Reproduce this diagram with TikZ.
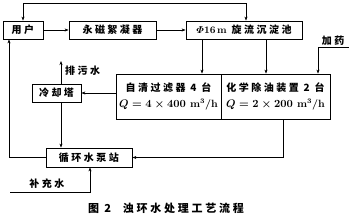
\documentclass[tikz,border=0pt]{standalone}
\usepackage{amsmath}
\usepackage{fontspec}
\newfontfamily\cjk[LetterSpace=25]{Noto Sans CJK SC}
\usetikzlibrary{arrows.meta}
\begin{document}
\begin{tikzpicture}[x=1pt,y=-1pt,
  box/.style={draw,line width=0.8pt,inner sep=0pt,font=\cjk\bfseries\fontsize{10}{11}\selectfont},
  arr/.style={line width=0.6pt,-{Stealth[length=4pt,width=3pt]}},
  barr/.style={line width=0.6pt,{Stealth[length=4pt,width=3pt]}-{Stealth[length=4pt,width=3pt]}},
  lbl/.style={inner sep=0pt,font=\cjk\bfseries\fontsize{10}{11}\selectfont}]
\useasboundingbox (0,0) rectangle (349,219);
% boxes
\node[box,minimum width=40pt,minimum height=18pt] (user) at (23,30) {用户};
\node[box,minimum width=87pt,minimum height=18pt] (mag) at (112.5,30) {永磁絮凝器};
\node[box,minimum width=116pt,minimum height=18pt] (phi) at (244,30) {{\boldmath$\varPhi$}{\rmfamily\bfseries 16\,m} 旋流沉淀池};
\node[box,minimum width=105pt,minimum height=45pt,align=center] (filt) at (168.5,96.5) {自清过滤器 4 台\\[5pt]{\rmfamily\bfseries\boldmath\fontsize{10.5}{12}\selectfont $Q=4\times400$ m$^3$/h}};
\node[box,minimum width=109pt,minimum height=45pt,align=center] (chem) at (275.5,96.5) {化学除油装置 2 台\\[5pt]{\rmfamily\bfseries\boldmath\fontsize{10.5}{12}\selectfont $Q=2\times200$ m$^3$/h}};
\node[box,minimum width=49pt,minimum height=18pt] (cool) at (56.5,93) {冷却塔};
\node[box,minimum width=86pt,minimum height=19pt] (pump) at (89,157.5) {循环水泵站};
% labels
\node[lbl,anchor=west] (pw) at (65,71) {排污水};
\node[lbl] (mkl) at (47,184) {补充水};
\node[lbl] (drug) at (333,41) {加药};
\node[inner sep=0pt,font=\cjk\bfseries\fontsize{11}{12}\selectfont] (cap) at (166,208) {图 2\hspace{12pt}浊环水处理工艺流程};
% helper coordinates
\coordinate (top) at (0,3);
\coordinate (c246) at (246,0);
\coordinate (c202) at (202,0);
\coordinate (c266) at (266,0);
\coordinate (c318) at (318,0);
\coordinate (c283) at (283,0);
\coordinate (c61) at (61,0);
\coordinate (c9) at (9,0);
\coordinate (c90) at (90,0);
\coordinate (drugin) at (349,47);
\coordinate (pwtop) at (61,61);
\coordinate (mk) at (10,192);
% connectors
\draw[arr] (user.east) -- (mag.west);
\draw[arr] (mag.east) -- (phi.west);
\draw[barr] (user.north) |- (top -| c246) -- (c246 |- phi.north);
\draw[arr] (c202 |- phi.south) -- (c202 |- filt.north);
\draw[arr] (c266 |- phi.south) -- (c266 |- chem.north);
\draw[arr] (drugin) -| (c318 |- chem.north);
\draw[arr] (filt.west |- cool.east) -- (cool.east);
\draw[arr] (c61 |- cool.north) -- (pwtop);
\draw[arr] (c61 |- cool.south) -- (c61 |- pump.north);
\draw[arr] (c283 |- chem.south) |- (pump.east);
\draw[arr] (pump.west) -| (c9 |- user.south);
\draw[arr] (mk) -| (c90 |- pump.south);
\end{tikzpicture}
\end{document}
